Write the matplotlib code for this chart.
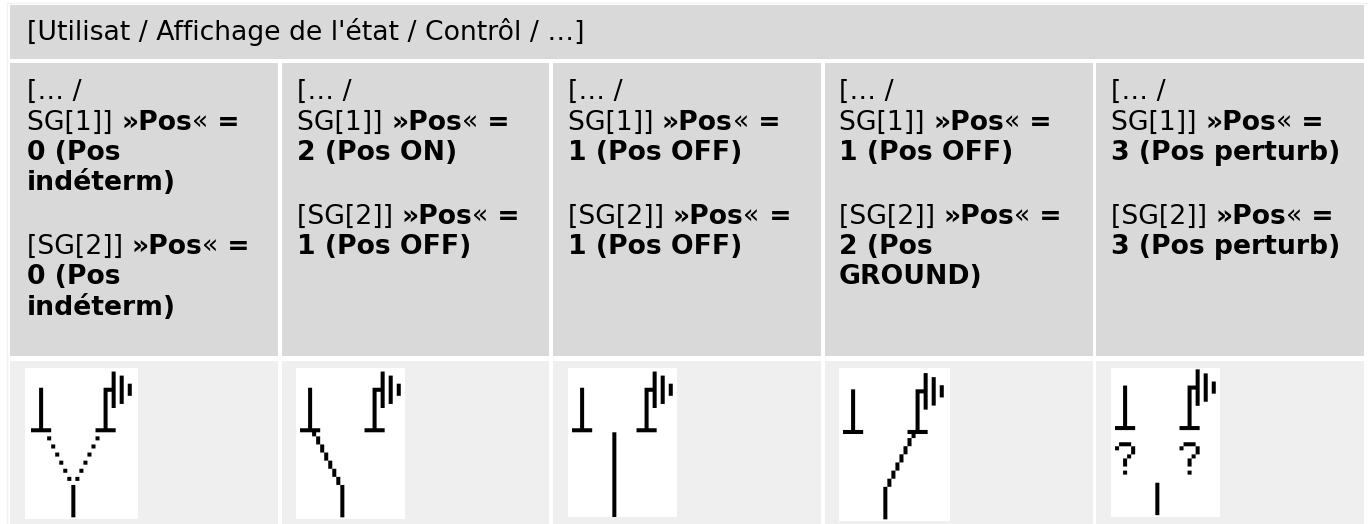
import numpy as np
import matplotlib
matplotlib.use("Agg")
import matplotlib.pyplot as plt
from matplotlib.patches import Rectangle

# ---- content ----
header = "[Utilisat / Affichage de l'état / Contrôl / …]"
SG1 = [[("SG[1]] ", "normal"), ("»Pos", "bold"), ("«", "normal"), (" =", "bold")]]
SG2 = [[("[SG[2]] ", "normal"), ("»Pos", "bold"), ("«", "normal"), (" =", "bold")]]
col_first = [("[… /", "normal")]
state_indet = ["0 (Pos", "indéterm)"]
state_on = ["2 (Pos ON)"]
state_off = ["1 (Pos OFF)"]
state_ground = ["2 (Pos", "GROUND)"]
state_pert = ["3 (Pos perturb)"]
sg1_states = [state_indet, state_on, state_off, state_off, state_pert]
sg2_states = [state_indet, state_off, state_off, state_ground, state_pert]

# ---- icon bitmaps: (column, first row, last row) of black runs ----
base_left = [(1, 15, 15), (2, 15, 15), (3, 5, 15), (4, 15, 15), (5, 15, 15)]
base_right = [(17, 15, 15), (18, 15, 15), (19, 5, 15), (20, 5, 5), (20, 15, 15), (21, 1, 9),
              (21, 15, 15), (23, 2, 8), (25, 4, 6)]
feed_short = [(11, 29, 36)]
icon_open = [(5, 17, 17), (6, 19, 19), (7, 21, 21), (8, 23, 23), (9, 25, 25), (10, 27, 27),
             (17, 17, 17), (16, 19, 19), (15, 21, 21), (14, 23, 23), (13, 25, 25), (12, 27, 27)] + feed_short
icon_on = [(4, 16, 16), (5, 17, 18), (6, 19, 20), (7, 21, 22), (8, 23, 24), (9, 25, 26), (10, 27, 28)] + feed_short
icon_off = [(11, 16, 36)]
icon_gnd = [(18, 16, 16), (17, 17, 18), (16, 19, 20), (15, 21, 22), (14, 23, 24), (13, 25, 26), (12, 27, 28)] + feed_short
qmark = [(2, 19, 19), (3, 19, 19), (4, 19, 19), (1, 20, 20), (5, 20, 21), (4, 22, 22), (3, 23, 24), (3, 26, 26)]
icon_pert = qmark + [(c + 16, a, b) for c, a, b in qmark] + feed_short
icons = [icon_open, icon_on, icon_off, icon_gnd, icon_pert]

# ---- layout (pixels) ----
W, H = 1368, 524
col_l = [10, 282, 553, 825, 1096]
col_r = [278, 549, 821, 1093, 1364]
text_x = [27, 297, 568, 839, 1111]
white_box = [(25, 368, 138, 519), (296, 368, 405, 519), (568, 368, 677, 517),
             (839, 368, 950, 521), (1111, 368, 1220, 517)]
icon_origin = [(27, 367.5), (296, 367.5), (568, 367.5), (839, 369.5), (1111, 365.3)]
CW, CH = 4.03, 4.05
LINE, GAP = 30.5, 33.0
FS = 19.15
UPS = 4

fig = plt.figure(figsize=(W / 100, H / 100), dpi=100)
ax = fig.add_axes([0, 0, 1, 1])
ax.set_axis_off()

ax.add_patch(Rectangle((6.5, 2.5), 1400, 600, fc="none", ec="#f2f2f2", lw=1))
ax.add_patch(Rectangle((10, 5), 1354, 54, fc="#d9d9d9", ec="none"))
for l, r in zip(col_l, col_r):
    ax.add_patch(Rectangle((l, 63), r - l, 293, fc="#d9d9d9", ec="none"))
    ax.add_patch(Rectangle((l, 361), r - l, 170, fc="#efefef", ec="none"))

renderer = fig.canvas.get_renderer()


def width(s, weight):
    t = ax.text(0, 0, "x" + s + "x", fontsize=FS, fontweight=weight)
    a = t.get_window_extent(renderer).width
    t.set_text("xx")
    b = t.get_window_extent(renderer).width
    t.remove()
    return a - b


def draw_runs(x, y, runs):
    for s, weight in runs:
        ax.text(x, y, s, fontsize=FS, fontweight=weight, color="black", va="baseline", ha="left")
        x += width(s, weight)


ax.set_xlim(0, W)
ax.set_ylim(H, 0)
ax.text(27, 39.5, header, fontsize=FS, color="black", va="baseline", ha="left")

for i in range(5):
    y = 99.0
    draw_runs(text_x[i], y, col_first)
    y += LINE
    draw_runs(text_x[i], y, SG1[0])
    for s in sg1_states[i]:
        y += LINE
        draw_runs(text_x[i], y, [(s, "bold")])
    y += LINE + GAP
    draw_runs(text_x[i], y, SG2[0])
    for s in sg2_states[i]:
        y += LINE
        draw_runs(text_x[i], y, [(s, "bold")])

    x0, y0, x1, y1 = white_box[i]
    box = Rectangle((x0, y0), x1 - x0, y1 - y0, fc="white", ec="none")
    ax.add_patch(box)
    bmp = np.ones((40, 30))
    for c, a, b in base_left + base_right + icons[i]:
        bmp[a:b + 1, c] = 0
    bmp = np.repeat(np.repeat(bmp, UPS, axis=0), UPS, axis=1)
    ox, oy = icon_origin[i]
    im = ax.imshow(bmp, cmap="gray", vmin=0, vmax=1, interpolation="bilinear", aspect="auto",
                   extent=(ox, ox + 30 * CW, oy + 40 * CH, oy), zorder=3)
    im.set_clip_path(box)

ax.set_xlim(0, W)
ax.set_ylim(H, 0)
fig.savefig("out.png", dpi=100, facecolor="white")
